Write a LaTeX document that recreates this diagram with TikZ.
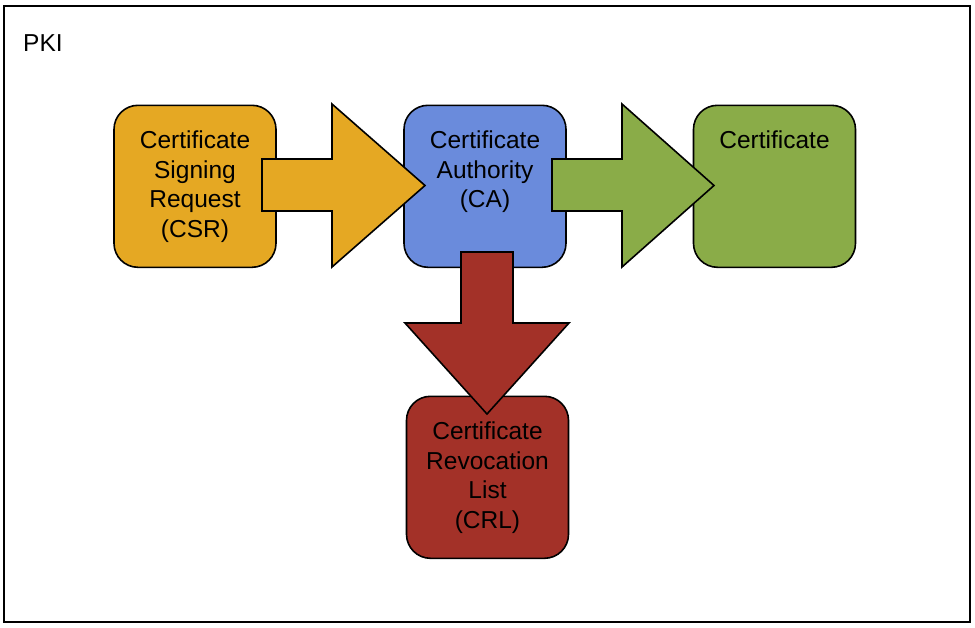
\documentclass[tikz,border=0pt]{standalone}
\usepackage{fontspec}
\setmainfont{Liberation Sans}
\definecolor{csrcol}{HTML}{E5A823}
\definecolor{cacol}{HTML}{6A8BDC}
\definecolor{certcol}{HTML}{8AAC48}
\definecolor{crlcol}{HTML}{A33128}
\begin{document}
\begin{tikzpicture}[x=1pt,y=-1pt,
  box/.style={draw=black, line width=1.6pt, rounded corners=24pt, minimum width=162pt, minimum height=162pt, inner sep=0pt, anchor=north},
  lbl/.style={font=\fontsize{24.5}{29.5}\selectfont, align=center, anchor=north, inner sep=0pt},
  blockarrow/.style={draw=black, line width=1.6pt, line join=miter}]
\useasboundingbox (0,0) rectangle (975,627);
\draw[line width=2pt] (4,6) rectangle (970,622);
\node[anchor=base west, inner sep=0pt, font=\fontsize{24.5}{29.5}\selectfont] (pki) at (23,51) {PKI};
% boxes
\node[box, fill=csrcol] (csr) at (195,104.5) {};
\node[box, fill=cacol] (ca) at (485,104.5) {};
\node[box, fill=certcol] (cert) at (774.5,104.5) {};
\node[box, fill=crlcol] (crl) at (487.5,395.5) {};
% block arrows
\draw[blockarrow, fill=csrcol] (262,159) -- (332,159) -- (332,104) -- (425,185.5) -- (332,267) -- (332,211) -- (262,211) -- cycle;
\draw[blockarrow, fill=certcol] (552,159) -- (622,159) -- (622,104) -- (714,185.5) -- (622,267) -- (622,211) -- (552,211) -- cycle;
\draw[blockarrow, fill=crlcol] (461,252) -- (461,323) -- (405,323) -- (487,414) -- (569,323) -- (513,323) -- (513,252) -- cycle;
% texts
\node[lbl, yshift=-23.4pt] (csrtext) at (csr.north) {\strut Certificate\\Signing\\Request\\(CSR)};
\node[lbl, yshift=-23.4pt] (catext) at (ca.north) {\strut Certificate\\Authority\\(CA)};
\node[lbl, yshift=-23.4pt] (certtext) at (cert.north) {\strut Certificate};
\node[lbl, yshift=-23.4pt] (crltext) at (crl.north) {\strut Certificate\\Revocation\\List\\(CRL)};
\end{tikzpicture}
\end{document}
